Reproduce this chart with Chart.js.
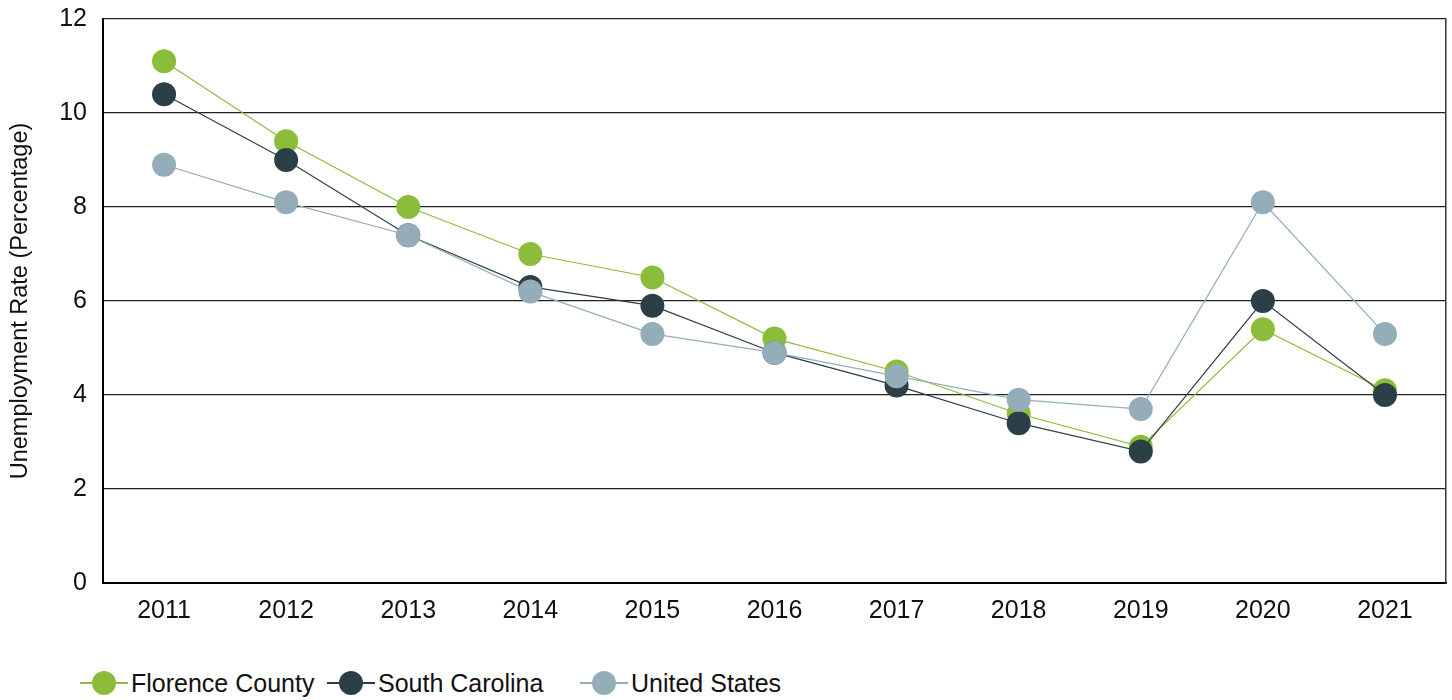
<!DOCTYPE html>
<html>
<head>
<meta charset="utf-8">
<script src="https://cdn.jsdelivr.net/npm/chart.js@4.4.1/dist/chart.umd.min.js"></script>
<style>
  html, body { margin: 0; padding: 0; background: #fff; }
  #wrap { position: relative; width: 1452px; height: 700px; font-family: "Liberation Sans", Arial, sans-serif; }
  #chart { position: absolute; left: 0; top: 0; }
  .leg { position: absolute; top: 669px; height: 28px; display: flex; align-items: center; font-size: 25px; color: #111; white-space: nowrap; }
  .leg .ico { position: relative; width: 48px; height: 28px; margin-right: 3px; }
  .leg .ico::before { content: ''; position: absolute; left: 0; right: 0; top: 13px; height: 1.5px; background: var(--c); }
  .leg .ico::after { content: ''; position: absolute; left: 12px; top: 2px; width: 24px; height: 24px; border-radius: 50%; background: var(--c); }
</style>
</head>
<body>
<div id="wrap">
  <canvas id="chart" width="1452" height="640"></canvas>
  <div id="legend"></div>
</div>
<script>
// years on the x axis
const years = ['2011', '2012', '2013', '2014', '2015', '2016', '2017', '2018', '2019', '2020', '2021'];

// unemployment rate, percent
const florence = [11.1, 9.4, 8.0, 7.0, 6.5, 5.2, 4.5, 3.6, 2.9, 5.4, 4.1];
const southCarolina = [10.4, 9.0, 7.4, 6.3, 5.9, 4.9, 4.2, 3.4, 2.8, 6.0, 4.0];
const unitedStates = [8.9, 8.1, 7.4, 6.2, 5.3, 4.9, 4.4, 3.9, 3.7, 8.1, 5.3];

const seriesNames = ['Florence County', 'South Carolina', 'United States'];
const seriesColors = ['#8cbd3a', '#2b3f47', '#93aeb8'];
const legendLeft = [80, 327, 580];

const FONT = '"Liberation Sans", Arial, sans-serif';

function makeSet(i, data) {
  return {
    label: seriesNames[i],
    data,
    borderColor: seriesColors[i],
    backgroundColor: seriesColors[i],
    borderWidth: 1.2,
    pointRadius: 12,
    pointHoverRadius: 12,
    pointBorderWidth: 0,
    tension: 0,
    clip: false,
    // last series on top
    order: 2 - i,
  };
}

new Chart(document.getElementById('chart').getContext('2d'), {
  type: 'line',
  data: {
    labels: years,
    datasets: [
      makeSet(0, florence),
      makeSet(1, southCarolina),
      makeSet(2, unitedStates),
    ],
  },
  options: {
    responsive: false,
    animation: false,
    layout: { autoPadding: false, padding: { top: 4, right: 6, bottom: 0, left: 0 } },
    plugins: {
      legend: { display: false },
      tooltip: { enabled: false },
    },
    scales: {
      x: {
        offset: true,
        grid: { display: false, drawTicks: false },
        border: { display: true, color: '#000', width: 2 },
        ticks: { color: '#111', font: { family: FONT, size: 25 }, padding: 13, maxRotation: 0 },
        afterFit: (s) => { s.height = 57; },
      },
      y: {
        min: 0,
        max: 12,
        grid: { color: '#222', lineWidth: 1.2, drawTicks: false },
        border: { display: true, color: '#000', width: 2 },
        ticks: { stepSize: 2, color: '#111', font: { family: FONT, size: 25 }, padding: 16 },
        title: {
          display: true,
          text: 'Unemployment Rate (Percentage)',
          color: '#111',
          font: { family: FONT, size: 23.5 },
          padding: { top: 6, bottom: 0 },
        },
        afterFit: (s) => {
          s.width = 103;
          // keep the plot top close to the "12" label
          s.paddingTop = 19;
          s.paddingBottom = 0;
        },
      },
      y2: {
        position: 'right',
        min: 0,
        max: 12,
        display: true,
        grid: { display: false, drawOnChartArea: false, drawTicks: false },
        border: { display: true, color: '#333', width: 1.5 },
        ticks: { display: false },
        afterFit: (s) => { s.width = 0; s.paddingTop = 0; s.paddingBottom = 0; },
      },
    },
  },
});

// legend: line-through-circle markers like the source
const legendEl = document.getElementById('legend');
seriesNames.forEach((name, i) => {
  const item = document.createElement('div');
  item.className = 'leg';
  item.style.left = legendLeft[i] + 'px';
  item.style.setProperty('--c', seriesColors[i]);
  const ico = document.createElement('span');
  ico.className = 'ico';
  const txt = document.createElement('span');
  txt.textContent = name;
  item.appendChild(ico);
  item.appendChild(txt);
  legendEl.appendChild(item);
});
</script>
</body>
</html>
